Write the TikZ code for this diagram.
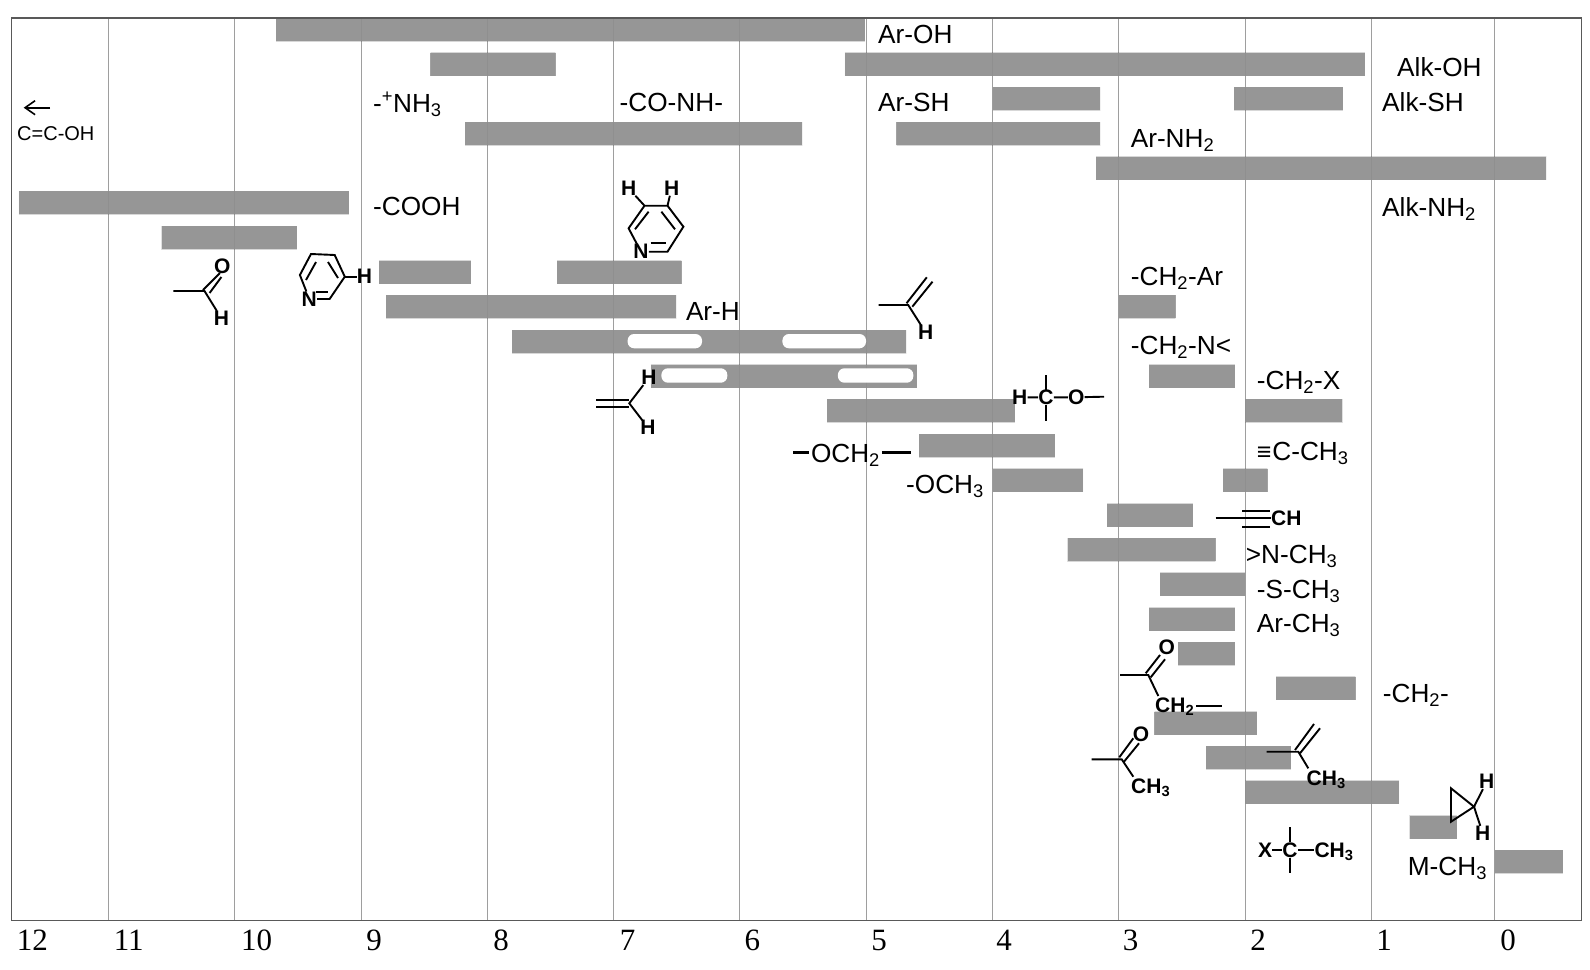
\documentclass[tikz,border=0pt]{standalone}
\usepackage{fontspec}
\usetikzlibrary{arrows.meta}
\usetikzlibrary{patterns.meta}
\setmainfont{Liberation Sans}
\newfontfamily\ppmfont{Liberation Serif}
\tikzset{>={Straight Barb[length=10pt, width=14pt]}}
\tikzset{peak/.style={preaction={fill=black!36, fill opacity=0.92}, pattern={Dots[distance=2pt, radius=0.62pt]}, pattern color=black!68}}
\tikzset{gap/.style={fill=white, rounded corners=6.5pt}}
\tikzset{gridline/.style={draw=black!38, line width=1.4pt}}
\tikzset{frame/.style={draw=black!65, line width=1.4pt}}
\tikzset{ppm/.style={font=\ppmfont\fontsize{31}{31}\selectfont, anchor=base, inner sep=0pt}}
\tikzset{group/.style={font=\fontsize{26.2}{26.2}\selectfont, anchor=base west, inner sep=0pt}}
\tikzset{atom/.style={font=\bfseries\fontsize{21}{21}\selectfont, inner sep=0pt}}
\tikzset{chain/.style={font=\bfseries\fontsize{21}{21}\selectfont, anchor=base west, inner sep=0pt}}
\tikzset{bond/.style={draw=black, line width=1.9pt}}

\begin{document}
\begin{tikzpicture}[x=1pt, y=-1pt]
    \useasboundingbox (0,0) rectangle (1590,969);

    % Grid lines and axis numbers.
    \foreach \xg in {108.6,234.6,361.4,487.5,613.4,739.5,866.6,992.4,1118.7,1245.3,1371.3,1494.7}
        \draw [gridline] (\xg,18) -- (\xg,920.7);
    \foreach \xn/\val in {32.4/12,128.8/11,256.5/10,374/9,501/8,627.7/7,752.4/6,879/5,1004/4,1130.6/3,1258/2,1384/1,1508/0}
        \node [ppm] (ppm\val) at (\xn,950.7) {\val};

    % Shift ranges: left end, right end, row.
    \foreach \xa/\xb/\k in {276.2/865/0, 430.4/555.7/1, 844.7/1365/1, 992.7/1100/2, 1234/1342.5/2,
        465/802/3, 896.4/1100/3, 1096/1546/4, 18.6/349/5, 161.6/297/6, 379.3/470.6/7, 557/681.7/7,
        386/676/8, 1118.7/1175.7/8, 512/906.2/9, 650.6/916.7/10, 1149/1234.7/10, 827/1014.7/11,
        1245.3/1342.3/11, 919/1054.6/12, 992.4/1083.3/13, 1223/1267.7/13, 1107.3/1192.7/14,
        1067.7/1215.7/15, 1160/1245.3/16, 1149/1234.7/17, 1178/1234.7/18, 1276/1355.7/19,
        1154.3/1256.7/20, 1206/1290.7/21, 1245.3/1399.3/22, 1409.7/1456.7/23, 1494.7/1562.7/24}
        \fill [peak] (\xa,{18+34.68*\k}) rectangle (\xb,{41+34.68*\k});

    % Gaps in the two long ranges.
    \fill [gap] (627.6,334) rectangle (702,348.3);
    \fill [gap] (782.4,334) rectangle (866,348.3);
    \fill [gap] (661.4,368.3) rectangle (727.3,382.7);
    \fill [gap] (837.9,368.3) rectangle (913.3,382.7);

    % Frame.
    \draw [frame] (11.2,18) rectangle (1581.7,920.7);

    % Group labels.
    \node [group] (arOH) at (878,43) {Ar-OH};
    \node [group] (alkOH) at (1397,76) {Alk-OH};
    \node [group] (nh3) at (373,112) {-\textsuperscript{+}NH\textsubscript{3}};
    \node [group] (amide) at (619.5,111) {-CO-NH-};
    \node [group] (arSH) at (878,111.5) {Ar-SH};
    \node [group] (alkSH) at (1382,111.5) {Alk-SH};
    \node [group] (arNH2) at (1130.6,147) {Ar-NH\textsubscript{2}};
    \node [group] (cooh) at (373,215) {-COOH};
    \node [group] (alkNH2) at (1382,216) {Alk-NH\textsubscript{2}};
    \node [group] (benzyl) at (1130.7,285) {-CH\textsubscript{2}-Ar};
    \node [group] (arH) at (685.8,320) {Ar-H};
    \node [group] (ch2n) at (1130.7,354) {-CH\textsubscript{2}-N<};
    \node [group] (ch2x) at (1256.7,389) {-CH\textsubscript{2}-X};
    \node [group] (och2) at (810.8,462) {OCH\textsubscript{2}};
    \node [group] (tripleMe) at (1256.7,460.5) {\makebox[15.5pt][l]{\fontsize{25}{25}\selectfont ≡}C-CH\textsubscript{3}};
    \node [group] (och3) at (906,493.5) {-OCH\textsubscript{3}};
    \node [group] (nch3) at (1245.7,563) {>N-CH\textsubscript{3}};
    \node [group] (sch3) at (1256.7,598.5) {-S-CH\textsubscript{3}};
    \node [group] (arch3) at (1256.7,632.5) {Ar-CH\textsubscript{3}};
    \node [group] (ch2) at (1382.7,702) {-CH\textsubscript{2}-};
    \node [group] (mch3) at (1407.7,875.5) {M-CH\textsubscript{3}};

    % Enol, top left.
    \node [group, font=\fontsize{20}{20}\selectfont] (enol) at (17,140) {C=C-OH};
    \coordinate (enolA) at (50,107.7);
    \coordinate (enolB) at (23.7,107.7);
    \draw [->, line width=1.6pt] (enolA) -- (enolB);

    % Bars beside the OCH2.
    \draw [line width=2.4pt] (793.3,452.3) -- (809,452.3);
    \draw [line width=2.4pt] (881.8,452.3) -- (911,452.3);

    % Aldehyde.
    \node [atom] (aldO) at (222.4,266.7) {O};
    \node [atom] (aldH) at (221.4,318.3) {H};
    \draw [bond] (173.4,291) -- (204.5,291) -- (aldH);
    \draw [bond] (203,290) -- (220,273);
    \draw [bond] (209.6,293) -- (221.4,277);

    % Pyridine, left.
    \node [atom] (pyrN) at (309.3,299) {N};
    \node [atom] (pyrH) at (364.4,276.7) {H};
    \draw [bond] (pyrN) -- (299.9,275) -- (311,254) -- (334.7,255) -- (344.8,276.7) -- (329.6,299) -- (pyrN);
    \draw [bond] (344.8,276.7) -- (pyrH);
    \draw [bond] (306,280) -- (316,262);
    \draw [bond] (328,262) -- (338,278);
    \draw [bond] (316,292) -- (328,292);

    % Pyridine, middle.
    \node [atom] (pydN) at (641,251.7) {N};
    \node [atom] (pydA) at (628.6,188.3) {H};
    \node [atom] (pydB) at (671.6,188.3) {H};
    \draw [bond] (pydN) -- (628.6,228.3) -- (644.5,205.7) -- (667.5,205.7) -- (683.4,226.7) -- (667.5,251.7) -- (pydN);
    \draw [bond] (644.5,205.7) -- (pydA);
    \draw [bond] (667.5,205.7) -- (pydB);
    \draw [bond] (635,229.3) -- (648.6,211.7);
    \draw [bond] (661.4,211.7) -- (675,229.3);
    \draw [bond] (650.6,243.3) -- (665.5,243.3);

    % Vinyl, right.
    \node [atom] (vinH) at (925.8,332.7) {H};
    \draw [bond] (878.5,305) -- (908.2,305) -- (vinH);
    \draw [bond] (906.5,303.3) -- (926.8,277.3);
    \draw [bond] (912.3,306.7) -- (932.5,281.7);

    % Vinyl, left.
    \node [atom] (vilA) at (649,377.7) {H};
    \node [atom] (vilB) at (648,427.7) {H};
    \draw [bond] (vilA) -- (629.3,403.3) -- (vilB);
    \draw [bond] (596.2,400) -- (629.3,400);
    \draw [bond] (596.2,407.3) -- (629.3,407.3);

    % H-C-O.
    \node [atom] (hcoH) at (1019.8,397.3) {H};
    \node [atom] (hcoC) at (1046,397.3) {C};
    \node [atom] (hcoO) at (1076.2,397.3) {O};
    \coordinate (hcoEnd) at (1104,396.7);
    \draw [bond] (hcoH) -- (hcoC) -- (hcoO) -- (hcoEnd);
    \draw [bond] (1046,375) -- (hcoC) -- (1046,420.7);

    % Alkyne.
    \node [chain] (alkyne) at (1271,525.7) {CH};
    \draw [bond] (1215.7,518.3) -- (alkyne.west|-1215.7,518.3);
    \draw [bond] (1242.3,510.7) -- (1270,510.7);
    \draw [bond] (1242.3,526.7) -- (1270,526.7);

    % Ketone with CH2.
    \node [atom] (ketO) at (1166.7,647.3) {O};
    \node [chain] (ketCH) at (1155,712.3) {CH\textsubscript{2}};
    \draw [bond] (1120,675) -- (1148.3,675) -- (1158.3,696);
    \draw [bond] (1145.7,673.3) -- (1160,655);
    \draw [bond] (1150.7,677.3) -- (1165,659.3);
    \draw [bond] (1196,706) -- (1221.7,706);

    % Ketone with CH3.
    \node [atom] (keaO) at (1141,734.7) {O};
    \node [chain] (keaCH) at (1131,793) {CH\textsubscript{3}};
    \draw [bond] (1091.7,759.3) -- (1121.7,759.3) -- (1133.3,776.7);
    \draw [bond] (1119.3,757.3) -- (1133.3,738.3);
    \draw [bond] (1124,761.7) -- (1139,743.3);

    % Isobutene.
    \node [chain] (isoCH) at (1306.5,785.7) {CH\textsubscript{3}};
    \draw [bond] (1266.7,751.7) -- (1298.3,751.7) -- (1308.3,768.3);
    \draw [bond] (1295,750) -- (1314,724);
    \draw [bond] (1300,753.3) -- (1320,728.3);

    % Cyclopropane.
    \node [atom] (cyclA) at (1486.7,781.7) {H};
    \node [atom] (cyclB) at (1482.7,833.3) {H};
    \draw [bond] (1451,788.3) -- (1451,821.7) -- (1474,806.7) -- cycle;
    \draw [bond] (cyclA) -- (1474,806.7) -- (cyclB);

    % X-C-CH3.
    \node [atom] (xcX) at (1265,850) {X};
    \node [atom] (xcC) at (1290,850) {C};
    \node [chain] (xcCH) at (1314.3,857.3) {CH\textsubscript{3}};
    \draw [bond] (xcX) -- (xcC) -- (xcCH.west|-xcC);
    \draw [bond] (1290,827.3) -- (xcC) -- (1290,873.3);

\end{tikzpicture}
\end{document}
